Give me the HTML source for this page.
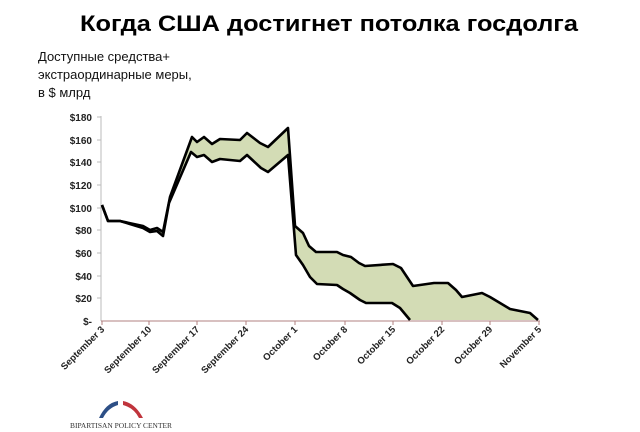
<!DOCTYPE html>
<html><head><meta charset="utf-8"><style>html,body{margin:0;padding:0;background:#fff}svg{display:block}</style></head>
<body>
<svg width="640" height="432" viewBox="0 0 640 432" xmlns="http://www.w3.org/2000/svg" font-family="Liberation Sans, sans-serif">
<text x="80" y="31" font-size="22" font-weight="bold" textLength="498" lengthAdjust="spacingAndGlyphs">Когда США достигнет потолка госдолга</text>
<g font-size="13" fill="#111">
<text x="38" y="61">Доступные средства+</text>
<text x="38" y="79">экстраординарные меры,</text>
<text x="38" y="97">в $ млрд</text>
</g>
<g font-size="10" font-weight="bold" text-anchor="end" fill="#222">
<text x="92" y="121">$180</text><text x="92" y="144">$160</text><text x="92" y="166">$140</text><text x="92" y="189">$120</text><text x="92" y="212">$100</text><text x="92" y="234">$80</text><text x="92" y="257">$60</text><text x="92" y="280">$40</text><text x="92" y="302">$20</text><text x="92" y="325">$-</text>
</g>
<g stroke="#bbb" stroke-width="1">
<line x1="101" y1="116" x2="101" y2="321"/>
<line x1="97" y1="117" x2="101" y2="117"/><line x1="97" y1="140" x2="101" y2="140"/><line x1="97" y1="162" x2="101" y2="162"/><line x1="97" y1="185" x2="101" y2="185"/><line x1="97" y1="208" x2="101" y2="208"/><line x1="97" y1="230" x2="101" y2="230"/><line x1="97" y1="253" x2="101" y2="253"/><line x1="97" y1="276" x2="101" y2="276"/><line x1="97" y1="298" x2="101" y2="298"/>
</g>
<polygon fill="#d3dcb5" points="102,205 108,221 120,221 143,226 150,230 157,228 163,232 170,197 192,137 197,142 204,137 212,144 220,139 240,140 247,133 260,143 268,147 288,128 295,226 303,233 309,246 316,252 337,252 343,255 351,257 359,263 365,266 393,264 401,268 407,277 413,286 434,283 448,283 456,290 462,297 482,293 490,297 510,309 530,313 538,320 410,320 400,308 392,303 366,303 360,300 350,293 343,289 337,285 317,284 310,277 303,265 296,255 288,155 268,172 261,168 247,155 240,161 220,159 212,162 204,155 197,157 191,152 169,203 163,236 157,231 150,232 143,228 120,221 108,221"/>
<g stroke="#b08080" stroke-width="1">
<line x1="101" y1="321" x2="540" y2="321"/>
<line x1="102" y1="321" x2="102" y2="325"/><line x1="149" y1="321" x2="149" y2="325"/><line x1="197" y1="321" x2="197" y2="325"/><line x1="246" y1="321" x2="246" y2="325"/><line x1="295" y1="321" x2="295" y2="325"/><line x1="345" y1="321" x2="345" y2="325"/><line x1="393" y1="321" x2="393" y2="325"/><line x1="442" y1="321" x2="442" y2="325"/><line x1="490" y1="321" x2="490" y2="325"/><line x1="539" y1="321" x2="539" y2="325"/>
</g>
<g fill="none" stroke="#000" stroke-width="2.6" stroke-linejoin="round">
<polyline points="102,205 108,221 120,221 143,226 150,230 157,228 163,232 170,197 192,137 197,142 204,137 212,144 220,139 240,140 247,133 260,143 268,147 288,128 295,226 303,233 309,246 316,252 337,252 343,255 351,257 359,263 365,266 393,264 401,268 407,277 413,286 434,283 448,283 456,290 462,297 482,293 490,297 510,309 530,313 538,320"/>
<polyline points="102,205 108,221 120,221 143,228 150,232 157,231 163,236 169,203 191,152 197,157 204,155 212,162 220,159 240,161 247,155 261,168 268,172 288,155 296,255 303,265 310,277 317,284 337,285 343,289 350,293 360,300 366,303 392,303 400,308 410,320"/>
</g>
<g font-size="9.5" font-weight="bold" text-anchor="end" fill="#222">
<text transform="translate(105,330) rotate(-45)">September 3</text>
<text transform="translate(152,330) rotate(-45)">September 10</text>
<text transform="translate(200,330) rotate(-45)">September 17</text>
<text transform="translate(249,330) rotate(-45)">September 24</text>
<text transform="translate(298,330) rotate(-45)">October 1</text>
<text transform="translate(348,330) rotate(-45)">October 8</text>
<text transform="translate(396,330) rotate(-45)">October 15</text>
<text transform="translate(445,330) rotate(-45)">October 22</text>
<text transform="translate(493,330) rotate(-45)">October 29</text>
<text transform="translate(542,330) rotate(-45)">November 5</text>
</g>
<path d="M99,418 Q106,403 118,401 L118,405 Q108,408 103,418 Z" fill="#2d4f86"/>
<path d="M123,401 Q135,403 143,418 L139,418 Q134,408 123,405 Z" fill="#c0343c"/>
<text x="70" y="428" font-family="Liberation Serif, serif" font-size="7" fill="#333" textLength="102" lengthAdjust="spacingAndGlyphs">BIPARTISAN POLICY CENTER</text>
</svg>
</body></html>
